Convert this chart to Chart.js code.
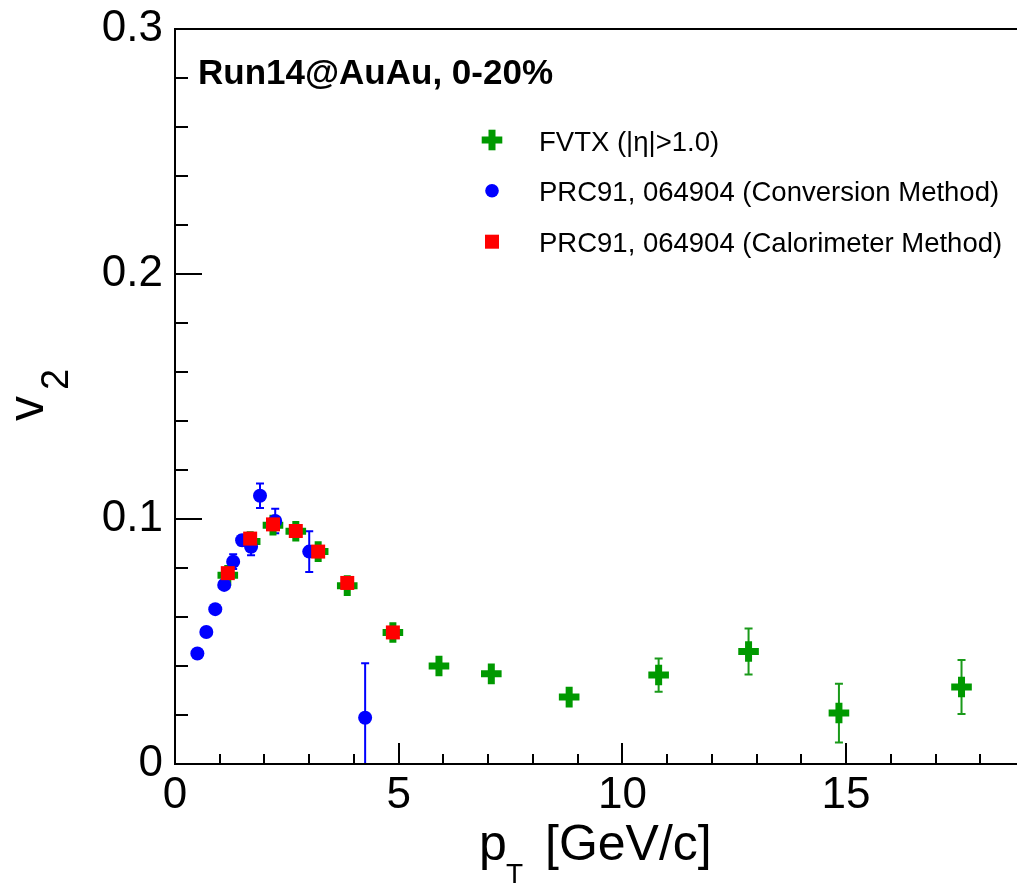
<!DOCTYPE html>
<html lang="en">
<head>
    <meta charset="UTF-8">
    <title>v2 vs pT, Run14 AuAu 0-20%</title>
    <script src="https://cdn.jsdelivr.net/npm/chart.js"></script>
    <style>
        body {
            margin: 0;
            padding: 0;
            background: white;
        }
        canvas {
            display: block;
        }
    </style>
</head>
<body>
    <canvas id="v2Chart" width="1017" height="885"></canvas>

    <script>
        // FVTX (|eta|>1.0)
        const fvtxPt  = [1.18, 1.68, 2.19, 2.70, 3.20, 3.85, 4.87, 5.90, 7.07, 8.81, 10.81, 12.82, 14.84, 17.58];
        const fvtxV2  = [0.0770, 0.0908, 0.0975, 0.0950, 0.0867, 0.0728, 0.0537, 0.0400, 0.0368, 0.0273, 0.0363, 0.0459, 0.0208, 0.0314];
        const fvtxErr = [0, 0, 0, 0, 0, 0, 0, 0, 0, 0, 0.0068, 0.0094, 0.0120, 0.0110];

        // PRC91, 064904 conversion method
        const convPt  = [0.50, 0.70, 0.90, 1.10, 1.30, 1.50, 1.70, 1.90, 2.24, 3.00, 4.25];
        const convV2  = [0.0451, 0.0539, 0.0632, 0.0731, 0.0826, 0.0913, 0.0887, 0.1095, 0.0992, 0.0867, 0.0189];
        const convErr = [0.001, 0.001, 0.001, 0.0015, 0.003, 0.002, 0.0035, 0.005, 0.005, 0.0083, 0.0222];

        // PRC91, 064904 calorimeter method
        const caloPt  = [1.18, 1.68, 2.19, 2.70, 3.20, 3.85, 4.87];
        const caloV2  = [0.0779, 0.0920, 0.0978, 0.0951, 0.0867, 0.0739, 0.0537];

        const xTickValues = [0, 5, 10, 15];
        const yTickValues = [0, 0.1, 0.2, 0.3];

        const legendLabels = ['FVTX (|\u03b7|>1.0)', 'PRC91, 064904 (Conversion Method)', 'PRC91, 064904 (Calorimeter Method)'];

        const GREEN = '#009900';
        const BLUE = '#0000ff';
        const RED = '#ff0000';
        const FONT = '"Liberation Sans", Arial, Helvetica, sans-serif';

        function toPoints(xs, ys) {
            return xs.map((x, i) => ({ x: x, y: ys[i] }));
        }

        function drawErrors(chart, xs, ys, errs, color) {
            const ctx = chart.ctx;
            const xs_ = chart.scales.x, ys_ = chart.scales.y;
            ctx.strokeStyle = color;
            ctx.lineWidth = 2;
            for (let i = 0; i < xs.length; i++) {
                if (!errs[i]) continue;
                const px = xs_.getPixelForValue(xs[i]);
                const top = ys_.getPixelForValue(ys[i] + errs[i]);
                const bot = ys_.getPixelForValue(ys[i] - errs[i]);
                ctx.beginPath();
                ctx.moveTo(px, top);
                ctx.lineTo(px, bot);
                ctx.moveTo(px - 4, top);
                ctx.lineTo(px + 4, top);
                ctx.moveTo(px - 4, bot);
                ctx.lineTo(px + 4, bot);
                ctx.stroke();
            }
        }

        // ROOT-like frame: inward ticks, axis titles, legend, label
        const rootFrame = {
            id: 'rootFrame',
            beforeDatasetsDraw(chart) {
                const ctx = chart.ctx;
                const a = chart.chartArea;
                ctx.save();
                ctx.beginPath();
                ctx.rect(a.left, a.top, a.right - a.left, a.bottom - a.top);
                ctx.clip();
                drawErrors(chart, fvtxPt, fvtxV2, fvtxErr, '#1a9a1a');
                drawErrors(chart, convPt, convV2, convErr, BLUE);
                ctx.restore();
            },
            afterDraw(chart) {
                const ctx = chart.ctx;
                const a = chart.chartArea;
                const sx = chart.scales.x, sy = chart.scales.y;
                ctx.save();
                ctx.strokeStyle = '#000';
                ctx.lineWidth = 2;

                // frame lines
                ctx.beginPath();
                ctx.moveTo(a.right + 2, a.top);
                ctx.lineTo(a.left, a.top);
                ctx.lineTo(a.left, a.bottom);
                ctx.lineTo(a.right + 2, a.bottom);
                ctx.stroke();

                // y ticks (major every 0.1, minor every 0.02)
                ctx.beginPath();
                for (let k = 0; k <= 15; k++) {
                    const v = k * 0.02;
                    const py = Math.round(sy.getPixelForValue(v));
                    const len = (k % 5 === 0) ? 27 : 13;
                    ctx.moveTo(a.left, py);
                    ctx.lineTo(a.left + len, py);
                }
                // x ticks (major every 5, minor every 1)
                for (let k = 0; k <= Math.floor(sx.max); k++) {
                    const px = Math.round(sx.getPixelForValue(k));
                    const len = (k % 5 === 0) ? 21 : 10;
                    ctx.moveTo(px, a.bottom);
                    ctx.lineTo(px, a.bottom - len);
                }
                ctx.stroke();

                ctx.fillStyle = '#000';
                ctx.textAlign = 'left';
                ctx.textBaseline = 'alphabetic';

                // x title
                ctx.font = '50px ' + FONT;
                ctx.fillText('p', 479, 860);
                ctx.fillText('[GeV/c]', 545, 860);
                ctx.font = '28px ' + FONT;
                ctx.fillText('T', 506, 883);

                // y title
                ctx.save();
                ctx.translate(43, 421);
                ctx.rotate(-Math.PI / 2);
                ctx.font = '50px ' + FONT;
                ctx.fillText('v', 0, 0);
                ctx.font = '38px ' + FONT;
                ctx.fillText('2', 31, 25);
                ctx.restore();

                // label
                ctx.font = 'bold 35px ' + FONT;
                ctx.fillText('Run14@AuAu, 0-20%', 198, 84);

                // legend
                ctx.font = '27.5px ' + FONT;
                const rows = [150.5, 201, 251.5];
                legendLabels.forEach((t, i) => ctx.fillText(t, 539, rows[i]));
                ctx.fillStyle = GREEN;
                ctx.fillRect(492 - 10.3, 140 - 3.5, 20.6, 7);
                ctx.fillRect(492 - 3.5, 140 - 10.3, 7, 20.6);
                ctx.fillStyle = BLUE;
                ctx.beginPath();
                ctx.arc(492, 190.7, 6.8, 0, Math.PI * 2);
                ctx.fill();
                ctx.fillStyle = RED;
                ctx.fillRect(485, 234.7, 14, 14);

                ctx.restore();
            }
        };

        const ctx = document.getElementById('v2Chart').getContext('2d');
        const v2Chart = new Chart(ctx, {
            type: 'scatter',
            data: {
                datasets: [
                    {
                        label: legendLabels[0],
                        data: toPoints(fvtxPt, fvtxV2),
                        pointStyle: 'cross',
                        pointRadius: 10.3,
                        pointBorderWidth: 7,
                        borderColor: GREEN,
                        backgroundColor: GREEN,
                        order: 3
                    },
                    {
                        label: legendLabels[1],
                        data: toPoints(convPt, convV2),
                        pointStyle: 'circle',
                        pointRadius: 7,
                        pointBorderWidth: 0,
                        borderColor: BLUE,
                        backgroundColor: BLUE,
                        order: 2
                    },
                    {
                        label: legendLabels[2],
                        data: toPoints(caloPt, caloV2),
                        pointStyle: 'rect',
                        pointRadius: 9.9,
                        pointBorderWidth: 0,
                        borderColor: RED,
                        backgroundColor: RED,
                        order: 1
                    }
                ]
            },
            options: {
                responsive: false,
                animation: false,
                devicePixelRatio: 1,
                layout: {
                    autoPadding: false,
                    padding: { top: 29, right: 0, left: 0, bottom: 0 }
                },
                plugins: {
                    legend: { display: false },
                    tooltip: { enabled: false }
                },
                scales: {
                    x: {
                        type: 'linear',
                        min: 0,
                        max: 18.82,
                        grid: { display: false, drawTicks: false },
                        border: { display: false },
                        afterBuildTicks: s => { s.ticks = xTickValues.map(v => ({ value: v })); },
                        afterFit: s => {
                            s.height = 121;
                            s.paddingLeft = 0;
                            s.paddingRight = 0;
                        },
                        ticks: {
                            color: '#000',
                            padding: 5,
                            maxRotation: 0,
                            font: { family: FONT, size: 44 },
                            callback: v => String(v)
                        }
                    },
                    y: {
                        type: 'linear',
                        min: 0,
                        max: 0.3,
                        grid: { display: false, drawTicks: false },
                        border: { display: false },
                        afterBuildTicks: s => { s.ticks = yTickValues.map(v => ({ value: v })); },
                        afterFit: s => {
                            s.width = 175;
                            s.paddingTop = 0;
                            s.paddingBottom = 0;
                        },
                        ticks: {
                            color: '#000',
                            padding: 12,
                            font: { family: FONT, size: 44 },
                            callback: v => (v === 0 ? '0' : v.toFixed(1))
                        }
                    }
                }
            },
            plugins: [rootFrame]
        });
    </script>
</body>
</html>
